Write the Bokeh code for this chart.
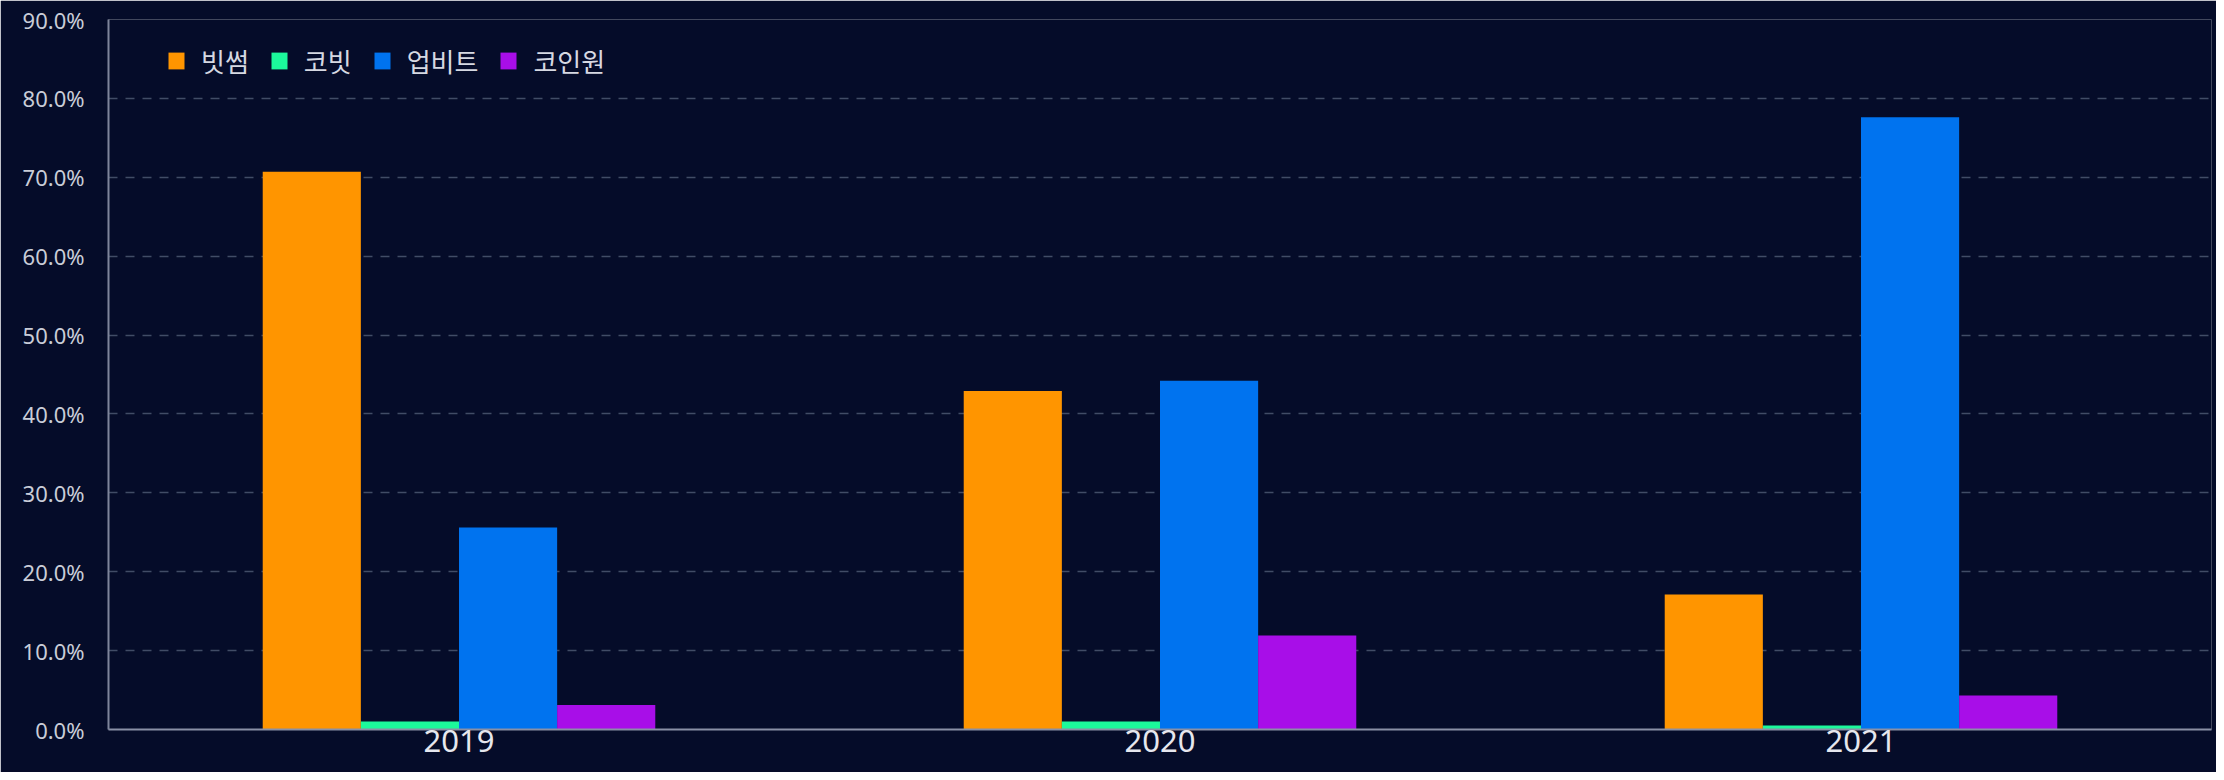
from bokeh.plotting import figure
from bokeh.models import FactorRange, Range1d, SingleIntervalTicker, PrintfTickFormatter, ColumnDataSource, Legend, LegendItem
from bokeh.transform import dodge
from bokeh.embed import file_html
from bokeh.resources import INLINE

years = ["2019", "2020", "2021"]
series_names = ["빗썸", "코빗", "업비트", "코인원"]
bithumb = [70.7, 42.9, 17.1]
korbit = [1.0, 1.0, 0.5]
upbit = [25.6, 44.2, 77.6]
coinone = [3.1, 11.9, 4.3]
colors = ["#ff9500", "#1cf99b", "#0073ef", "#a80ee8"]

source = ColumnDataSource(dict(year=years, s0=bithumb, s1=korbit, s2=upbit, s3=coinone))

BG = "#050c29"
p = figure(x_range=FactorRange(*years), y_range=Range1d(0, 90),
           width=2216, height=772, output_backend="svg", toolbar_location=None,
           min_border_left=108, min_border_right=5, min_border_top=19, min_border_bottom=43)
p.background_fill_color = BG
p.border_fill_color = BG
p.outline_line_color = None

offsets = [-0.21, -0.07, 0.07, 0.21]
renderers = []
for i, (name, col) in enumerate(zip(series_names, colors)):
    r = p.vbar(x=dodge("year", offsets[i], range=p.x_range), top="s%d" % i, width=0.14,
               source=source, fill_color=col, line_color=None)
    renderers.append(r)

legend = Legend(items=[LegendItem(label=n, renderers=[r]) for n, r in zip(series_names, renderers)],
                orientation="horizontal", location=(58, 650))
legend.background_fill_alpha = 0
legend.border_line_color = None
legend.padding = 0
legend.margin = 0
legend.spacing = 20
legend.glyph_width = 20
legend.glyph_height = 21
legend.label_standoff = 15
legend.label_text_font = "Noto Sans CJK KR"
legend.label_text_font_size = "26px"
legend.label_text_color = "#d6d9e2"
p.add_layout(legend)

# axes
p.yaxis.ticker = SingleIntervalTicker(interval=10)
p.yaxis.formatter = PrintfTickFormatter(format="%.1f%%")
p.yaxis.major_label_text_font = "Noto Sans"
p.yaxis.major_label_text_font_size = "22px"
p.yaxis.major_label_text_color = "#c9cdd8"
p.yaxis.axis_line_color = "#7f859b"
p.yaxis.axis_line_width = 2
p.yaxis.major_tick_line_color = None
p.yaxis.minor_tick_line_color = None
p.yaxis.major_tick_out = 0
p.yaxis.major_label_standoff = 20

p.xaxis.major_label_text_font = "Noto Sans"
p.xaxis.major_label_text_font_size = "31px"
p.xaxis.major_label_text_color = "#e6e7ee"
p.xaxis.axis_line_color = "#8a90a6"
p.xaxis.axis_line_width = 2
p.xaxis.major_tick_line_color = None
p.xaxis.minor_tick_line_color = None
p.xaxis.major_tick_out = 0
p.xaxis.major_label_standoff = 0

p.xgrid.grid_line_color = None
p.ygrid.grid_line_color = "#414c66"
p.ygrid.grid_line_width = 1.5
p.ygrid.grid_line_dash = "9 8"

open("out.html", "w").write(file_html(p, INLINE))
